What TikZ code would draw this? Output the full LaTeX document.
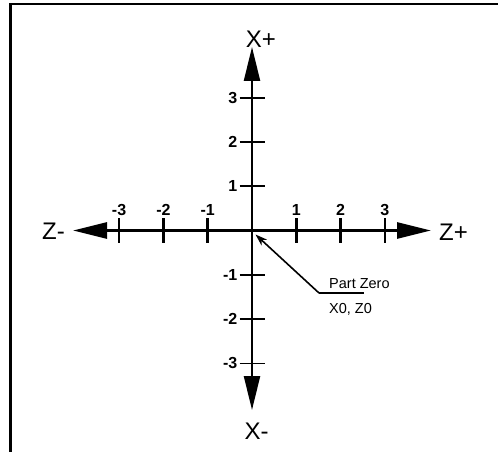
\documentclass[tikz,border=0pt]{standalone}
\usepackage{fontspec}
\setmainfont{Liberation Sans}
\usetikzlibrary{arrows.meta}
\tikzset{
  axisline/.style={line width=2.8pt, draw=black},
  vaxisline/.style={line width=2.3pt, draw=black},
  htick/.style={line width=2.6pt},
  vtick/.style={line width=1.8pt},
  ticklbl/.style={font=\fontsize{16pt}{16pt}\selectfont\bfseries, inner sep=0pt},
  axislbl/.style={font=\fontsize{24pt}{24pt}\selectfont, inner sep=0pt},
  notelbl/.style={font=\fontsize{14.5pt}{14.5pt}\selectfont, inner sep=0pt},
  bigtip/.tip={Triangle[length=34pt,width=16pt]},
}
\begin{document}
\begin{tikzpicture}[x=1pt,y=-1pt]
\useasboundingbox (0,0) rectangle (498,452);
\fill[white] (0,0) rectangle (498,452);
% frame (top and left edges)
\draw[line width=2.4pt] (10.5,452) -- (10.5,4) -- (498,4);
% key points
\coordinate (O) at (252,230.5);
\coordinate (zl) at (73,230.5);
\coordinate (zr) at (431,230.5);
\coordinate (xt) at (252,47);
\coordinate (xb) at (252,410);
% axes
\draw[axisline, {bigtip}-{bigtip}] (zl) -- (zr);
\draw[vaxisline, {bigtip}-{bigtip}] (xb) -- (xt);
% horizontal axis ticks and labels
\foreach \i/\l in {-3/-3,-2/-2,-1/-1,1/1,2/2,3/3}{
  \draw[htick] (252+44.3*\i,218) -- (252+44.3*\i,243);
  \node[ticklbl, anchor=base] (zt\i) at (252+44.3*\i,215.5) {\l};
}
% vertical axis ticks and labels
\foreach \i/\l in {-3/-3,-2/-2,-1/-1,1/1,2/2,3/3}{
  \draw[vtick] (239.5,230.5-44.3*\i) -- (264.5,230.5-44.3*\i);
  \node[ticklbl, anchor=base east] (xt\i) at (237.5,236-44.3*\i) {\l};
}
% axis labels
\node[axislbl, anchor=base] (Xp) at (261,47.5) {X+};
\node[axislbl, anchor=base] (Xm) at (256.5,439) {X-};
\node[axislbl, anchor=base west] (Zm) at (42,239) {Z-};
\node[axislbl, anchor=base west] (Zp) at (439,240) {Z+};
% part zero callout
\coordinate (pz) at (319,293);
\coordinate (pzr) at (364,293);
\coordinate (pztip) at (255.5,234.5);
\draw[line width=1.6pt, -{Stealth[length=12pt,width=8pt]}] (pz) -- (pztip);
\draw[line width=2.8pt] (pz) -- (pzr);
\node[notelbl, anchor=base west] (pzt) at (329,288) {Part Zero};
\node[notelbl, anchor=base west] (pzc) at (329,313) {X0, Z0};
\end{tikzpicture}
\end{document}
